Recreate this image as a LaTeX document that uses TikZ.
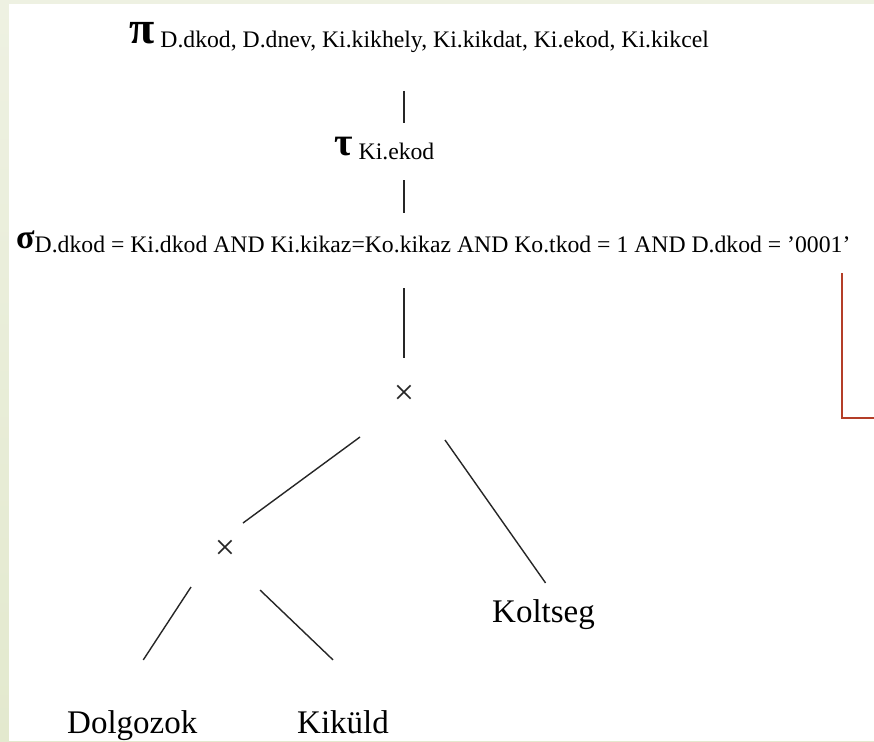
\documentclass[tikz,border=0pt]{standalone}
\usepackage{fontspec}
\setmainfont{Liberation Serif}
\usetikzlibrary{calc}

\definecolor{slidebg}{RGB}{238,241,226}
\definecolor{slidebgdark}{RGB}{227,233,206}
\definecolor{markred}{RGB}{180,62,40}

\newcommand{\opsym}[2]{{\fontsize{#1}{#1}\selectfont\bfseries #2}}
\newcommand{\opsub}[3]{\hspace{#1}\raisebox{#2}{\fontsize{23.7}{24}\selectfont #3}}

\tikzset{
  op/.style={inner sep=0pt, anchor=base west},
  leaf/.style={inner sep=0pt, anchor=base west, font=\fontsize{33}{33}\selectfont},
  cross/.style={inner sep=0pt, font=\fontsize{36}{36}\selectfont, black!85},
  edge/.style={line width=1.4pt, black!85}
}

\begin{document}
\begin{tikzpicture}[x=1pt, y=-1pt]

        % hintergrund
        \shade[top color=slidebg, bottom color=slidebgdark] (0,0) rectangle (874,741);
        \fill[white] (9,4) rectangle (874,741);
        \useasboundingbox (0,0) rectangle (874,741);

        % operatoren
        \node[op] (pi) at (129,44) {\opsym{46}{π}\opsub{6pt}{-4pt}{D.dkod, D.dnev, Ki.kikhely, Ki.kikdat, Ki.ekod, Ki.kikcel}};
        \node[op] (tau) at (334,155) {\opsym{40}{τ}\opsub{6pt}{-4pt}{Ki.ekod}};
        \node[op] (sigma) at (16,248) {\opsym{34}{σ}\opsub{0pt}{-4pt}{D.dkod = Ki.dkod AND Ki.kikaz=Ko.kikaz AND Ko.tkod = 1 AND D.dkod = ’0001’}};
        \node[cross] (x1) at (404,395) {×};
        \node[cross] (x2) at (225,550) {×};

        % relationen
        \node[leaf] (kolt) at (492,622) {Koltseg};
        \node[leaf] (dolg) at (67,733) {Dolgozok};
        \node[leaf] (kik) at (297,733) {Kiküld};

        % kanten
        \draw[edge] ($(pi.base -| x1)+(0,47)$) -- ($(tau.base -| x1)+(0,-32)$);
        \draw[edge] ($(tau.base -| x1)+(0,25)$) -- ($(sigma.base -| x1)+(0,-35)$);
        \draw[edge] ($(sigma.base -| x1)+(0,40)$) -- ($(x1.center)+(0,-37)$);
        \draw[edge] ([shift={(-44,42)}]x1.center) -- ([shift={(18,-27)}]x2.center);
        \draw[edge] ([shift={(41,45)}]x1.center) -- ([shift={(2,-16)}]kolt.north);
        \draw[edge] ([shift={(-34,37)}]x2.center) -- ([shift={(11,-50)}]dolg.north);
        \draw[edge] ([shift={(35,40)}]x2.center) -- ([shift={(-10,-50)}]kik.north);

        % markierung
        \draw[markred, line width=1.5pt] (842,273) -- (842,418) -- (874,418);

\end{tikzpicture}
\end{document}
